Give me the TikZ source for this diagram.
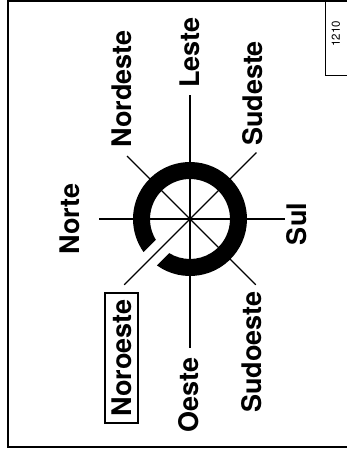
\documentclass[tikz,border=0pt]{standalone}
\usepackage{fontspec}
\setmainfont{TeX Gyre Heros}
\usetikzlibrary{positioning}
\tikzset{
  dirlabel/.style={font=\fontsize{27}{27}\selectfont\bfseries, rotate=90, inner sep=0pt},
  spoke/.style={line width=1.3pt},
  frameline/.style={line width=1.6pt},
  ring/.style={fill=black},
}
\begin{document}
\begin{tikzpicture}[x=1pt, y=1pt]
  \useasboundingbox (-190,-238) rectangle (156,219);
  % outer frame, open to the right
  \draw[frameline] (160,218) -- (-182,218) -- (-182,-228) -- (160,-228);
  % number tab
  \node[font=\fontsize{11.5}{11.5}\selectfont, rotate=90, inner sep=0pt] (num) at (146,185) {1210};
  \draw[line width=1pt] (135,218) -- (135,143) -- (160,143);
  % ring, cut open along the south-west spoke
  \fill[ring] (234.6:57) arc[start angle=234.6, end angle=575.4, radius=57]
    -- (571.3:40) arc[start angle=571.3, end angle=238.7, radius=40] -- cycle;
  % spokes
  \coordinate (c) at (0,0);
  \foreach \nm/\ang/\len in {le/90/124, oe/270/129, no/180/91, su/0/95,
                             ne/135/89, se/45/94, so/-45/93, nw/225/93} {
    \coordinate (\nm) at (\ang:\len);
    \draw[spoke] (c) -- (\nm);
  }
  % directions
  \node[dirlabel] (leste) at (0,166.5) {Leste};
  \node[dirlabel] (nordeste) at (-68,130) {Nordeste};
  \node[dirlabel] (norte) at (-120,0) {Norte};
  \node[dirlabel, draw, line width=1.5pt, minimum width=130pt, minimum height=33pt]
    (noroeste) at (-68.5,-139) {Noroeste};
  \node[dirlabel] (oeste) at (-1.5,-176) {Oeste};
  \node[dirlabel] (sudoeste) at (62,-133) {Sudoeste};
  \node[dirlabel] (sul) at (107,-5) {Sul};
  \node[dirlabel] (sudeste) at (62.5,125.5) {Sudeste};
\end{tikzpicture}
\end{document}
